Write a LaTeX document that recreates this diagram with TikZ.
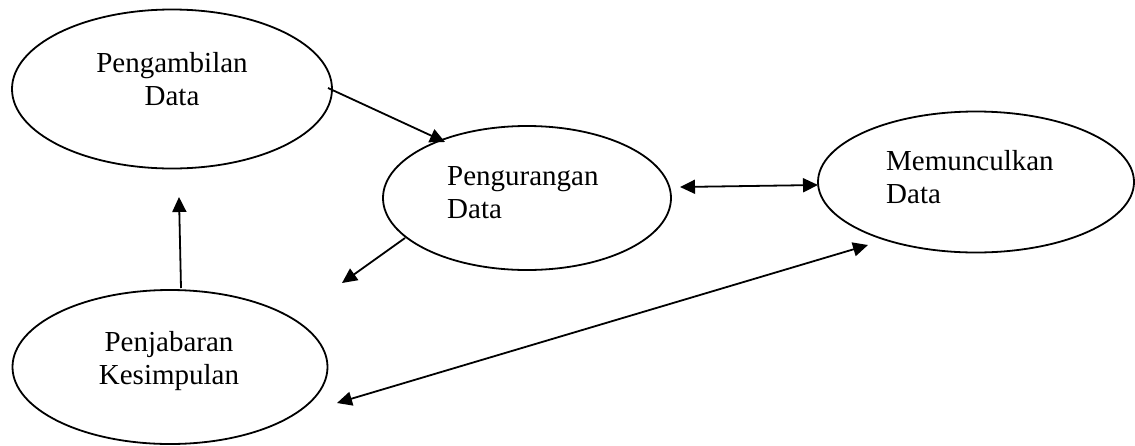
\documentclass[tikz,border=0pt]{standalone}
\usepackage{fontspec}
\setmainfont{Liberation Serif}
\usetikzlibrary{shapes.geometric,arrows.meta}
\begin{document}
\begin{tikzpicture}[x=1pt,y=-1pt,
  bubble/.style={draw=black, ellipse, line width=1.8pt, inner sep=0pt},
  lbl/.style={font=\fontsize{29}{33}\selectfont, inner sep=0pt},
  conn/.style={line width=1.8pt, -{Triangle[length=15pt,width=14pt]}},
  dconn/.style={line width=1.8pt, {Triangle[length=15pt,width=14pt]}-{Triangle[length=15pt,width=14pt]}}]
\useasboundingbox (0,0) rectangle (1135,445);
\node[bubble, minimum width=320pt, minimum height=159pt] (e1) at (172,89) {};
\node[bubble, minimum width=288pt, minimum height=144pt] (e2) at (527,198) {};
\node[bubble, minimum width=316pt, minimum height=141pt] (e3) at (976,182) {};
\node[bubble, minimum width=315pt, minimum height=154pt] (e4) at (170,367) {};
\node[lbl, align=center, anchor=base] (t1) at (172,105) {Pengambilan\\Data};
\node[lbl, align=left, anchor=base west] (t2) at (447,218) {Pengurangan\\Data};
\node[lbl, align=left, anchor=base west] (t3) at (886,203) {Memunculkan\\Data};
\node[lbl, align=center, anchor=base] (t4) at (169,384) {Penjabaran\\Kesimpulan};
\coordinate (a1s) at (328,88);
\coordinate (a1e) at (445,142);
\coordinate (a2l) at (680,187);
\coordinate (a2r) at (818,185);
\coordinate (a3s) at (405,238);
\coordinate (a3e) at (342,283);
\coordinate (a4s) at (181,288);
\coordinate (a4e) at (179,197);
\coordinate (a5l) at (337,403);
\coordinate (a5r) at (868,245);
\draw[conn] (a1s) -- (a1e);
\draw[dconn] (a2l) -- (a2r);
\draw[conn] (a3s) -- (a3e);
\draw[conn] (a4s) -- (a4e);
\draw[dconn] (a5l) -- (a5r);
\end{tikzpicture}
\end{document}
